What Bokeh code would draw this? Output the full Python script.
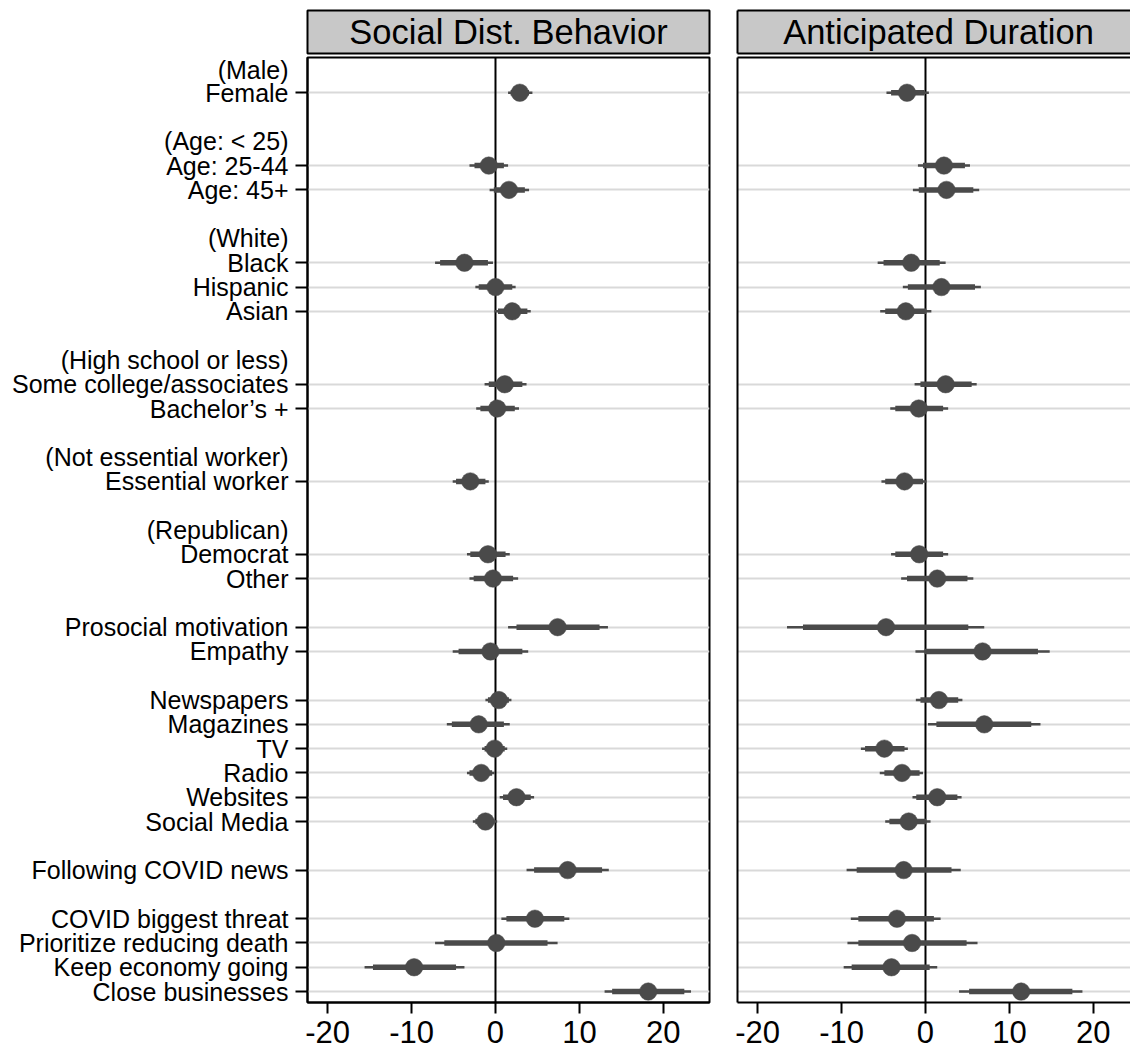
from bokeh.plotting import figure
from bokeh.layouts import row, column
from bokeh.models import Range1d, FixedTicker, LinearAxis, Span, Label, ColumnDataSource
from bokeh.embed import file_html
from bokeh.resources import INLINE

# ---------------- data ----------------
panel_titles = ["Social Dist. Behavior", "Anticipated Duration"]

group_headers = ["(Male)", "(Age: < 25)", "(White)", "(High school or less)",
                 "(Not essential worker)", "(Republican)", None, None, None, None]
group_items = [
    ["Female"],
    ["Age: 25-44", "Age: 45+"],
    ["Black", "Hispanic", "Asian"],
    ["Some college/associates", "Bachelor\u2019s +"],
    ["Essential worker"],
    ["Democrat", "Other"],
    ["Prosocial motivation", "Empathy"],
    ["Newspapers", "Magazines", "TV", "Radio", "Websites", "Social Media"],
    ["Following COVID news"],
    ["COVID biggest threat", "Prioritize reducing death", "Keep economy going", "Close businesses"],
]

xtick_values = [-20, -10, 0, 10, 20]
xtick_labels = ["-20", "-10", "0", "10", "20"]

# Social Dist. Behavior
sd_coef = [2.9, -0.8, 1.6, -3.7, 0.0, 2.0, 1.1, 0.2, -3.0, -0.9, -0.3, 7.4, -0.6,
           0.4, -2.0, -0.1, -1.7, 2.5, -1.2, 8.6, 4.7, 0.1, -9.7, 18.2]
sd_lo95 = [1.5, -3.1, -0.7, -7.2, -2.4, -0.1, -1.3, -2.3, -5.1, -3.4, -3.1, 1.5, -5.1,
           -1.2, -5.8, -1.6, -3.4, 0.5, -2.7, 3.7, 0.7, -7.2, -15.6, 13.0]
sd_hi95 = [4.4, 1.5, 4.0, -0.3, 2.4, 4.2, 3.7, 2.8, -0.8, 1.7, 2.7, 13.4, 3.9,
           1.9, 1.7, 1.4, -0.1, 4.6, 0.2, 13.5, 8.8, 7.4, -3.7, 23.3]
sd_lo90 = [1.8, -2.5, -0.2, -6.6, -2.0, 0.3, -0.8, -1.8, -4.7, -3.0, -2.6, 2.5, -4.4,
           -0.9, -5.2, -1.3, -3.1, 0.9, -2.4, 4.6, 1.3, -6.1, -14.6, 13.9]
sd_hi90 = [4.0, 1.0, 3.5, -0.9, 2.0, 3.8, 3.2, 2.3, -1.2, 1.2, 2.1, 12.4, 3.2,
           1.6, 1.0, 1.1, -0.4, 4.2, -0.1, 12.7, 8.2, 6.2, -4.7, 22.5]

# Anticipated Duration
ad_coef = [-2.2, 2.2, 2.5, -1.7, 1.9, -2.35, 2.4, -0.8, -2.5, -0.75, 1.4, -4.7, 6.8,
           1.6, 7.0, -4.9, -2.8, 1.4, -2.0, -2.6, -3.4, -1.6, -4.05, 11.4]
ad_lo95 = [-4.65, -0.9, -1.5, -5.7, -2.7, -5.4, -1.3, -4.2, -5.25, -4.1, -2.9, -16.5, -1.2,
           -1.15, 0.3, -7.7, -5.45, -1.55, -4.8, -9.4, -8.9, -9.3, -9.75, 4.0]
ad_hi95 = [0.4, 5.3, 6.4, 2.4, 6.6, 0.7, 6.1, 2.7, 0.1, 2.7, 5.7, 7.0, 14.8,
           4.4, 13.7, -2.1, -0.3, 4.3, 0.6, 4.2, 1.8, 6.2, 1.4, 18.7]
ad_lo90 = [-4.1, -0.3, -0.8, -5.0, -2.1, -4.8, -0.6, -3.6, -4.8, -3.6, -2.2, -14.6, -0.1,
           -0.6, 1.3, -7.2, -4.9, -1.1, -4.3, -8.2, -8.0, -8.0, -8.8, 5.2]
ad_hi90 = [-0.1, 4.7, 5.7, 1.7, 5.9, 0.1, 5.5, 2.1, -0.3, 2.1, 5.0, 5.1, 13.4,
           3.9, 12.6, -2.5, -0.7, 3.8, 0.1, 3.1, 1.0, 4.9, 0.5, 17.5]

# ---------------- layout helpers ----------------
FONT = "Liberation Sans"
MARK = "#4a4a4a"
GRID = "#d9d9d9"
XMIN, XMAX = -22.4, 25.5

slot = 0
coef_slots, label_map = [], {}
for head, items in zip(group_headers, group_items):
    if head is not None:
        label_map[slot] = head
        slot += 1
    for it in items:
        coef_slots.append(slot)
        label_map[slot] = it
        slot += 1
    slot += 1
last_slot = slot - 2

LB1, RB1, LB2 = 307, 14, 14
FRAME1 = 402
W1 = LB1 + FRAME1 + RB1
W2 = 1130 - W1
FRAME2 = W2 - LB2
x_end2 = XMIN + FRAME2 * (XMAX - XMIN) / FRAME1
HH = 55
MH = 1056 - HH


def line_axis(p, side):
    ax = LinearAxis(ticker=FixedTicker(ticks=[]), axis_line_width=2, axis_line_color="black",
                    major_tick_out=0, major_tick_in=0, minor_tick_out=0, minor_tick_in=0,
                    major_tick_line_color=None, minor_tick_line_color=None,
                    major_label_standoff=0, major_label_text_font_size="0px")
    p.add_layout(ax, side)


def make_header(title, width, mbl, mbr, x_end, cut):
    h = figure(width=width, height=HH, x_range=Range1d(XMIN, x_end), y_range=Range1d(0, 1),
               toolbar_location=None, output_backend="svg",
               x_axis_location=None, y_axis_location=None,
               min_border_left=mbl, min_border_right=mbr, min_border_top=10, min_border_bottom=2,
               background_fill_color="#c8c8c8", border_fill_color="white")
    h.grid.visible = False
    if cut:
        h.outline_line_color = None
        line_axis(h, "left")
        line_axis(h, "above")
        line_axis(h, "below")
    else:
        h.outline_line_color = "black"
        h.outline_line_width = 2
    h.add_layout(Label(x=(XMIN + XMAX) / 2, y=0.5, text=title, text_align="center",
                       text_baseline="middle", text_font=FONT, text_font_size="34.5px",
                       text_color="black"))
    return h


def make_panel(coef, lo95, hi95, lo90, hi90, width, mbl, mbr, x_end, first):
    p = figure(width=width, height=MH, x_range=Range1d(XMIN, x_end),
               y_range=Range1d(last_slot + 0.45, -0.45),
               toolbar_location=None, output_backend="svg",
               min_border_left=mbl, min_border_right=mbr, min_border_top=2, min_border_bottom=54,
               background_fill_color="white", border_fill_color="white")
    p.xgrid.grid_line_color = None
    p.ygrid.ticker = FixedTicker(ticks=coef_slots)
    p.ygrid.grid_line_color = GRID
    p.ygrid.grid_line_width = 2

    xa = p.xaxis[0]
    xa.ticker = FixedTicker(ticks=xtick_values)
    xa.major_label_overrides = dict(zip(xtick_values, xtick_labels))
    xa.axis_line_width = 2
    xa.axis_line_color = "black"
    xa.major_tick_out = 11
    xa.major_tick_in = 0
    xa.major_tick_line_width = 2
    xa.major_tick_line_color = "black"
    xa.minor_tick_line_color = None
    xa.major_label_text_font = FONT
    xa.major_label_text_font_size = "31px"
    xa.major_label_text_color = "black"
    xa.major_label_standoff = 7

    ya = p.yaxis[0]
    ya.axis_line_width = 2
    ya.axis_line_color = "black"
    if first:
        ya.ticker = FixedTicker(ticks=sorted(label_map), minor_ticks=coef_slots)
        ya.major_label_overrides = {k: v for k, v in label_map.items()}
        ya.major_tick_line_color = None
        ya.major_tick_out = 12
        ya.major_tick_in = 0
        ya.minor_tick_out = 12
        ya.minor_tick_in = 0
        ya.minor_tick_line_width = 2
        ya.minor_tick_line_color = "black"
        ya.major_label_text_font = FONT
        ya.major_label_text_font_size = "25px"
        ya.major_label_text_color = "black"
        ya.major_label_standoff = 7
        p.outline_line_color = "black"
        p.outline_line_width = 2
    else:
        ya.ticker = FixedTicker(ticks=[])
        ya.major_tick_line_color = None
        ya.minor_tick_line_color = None
        ya.major_tick_out = 0
        ya.minor_tick_out = 0
        ya.major_label_standoff = 0
        ya.major_label_text_font_size = "0px"
        p.outline_line_color = None
        line_axis(p, "above")

    p.add_layout(Span(location=0, dimension="height", line_color="black", line_width=2,
                      level="underlay"))

    src = ColumnDataSource(dict(y=coef_slots, coef=coef, lo95=lo95, hi95=hi95,
                                lo90=lo90, hi90=hi90))
    p.segment(x0="lo95", y0="y", x1="hi95", y1="y", source=src, line_color=MARK,
              line_width=2.5, line_cap="butt")
    p.segment(x0="lo90", y0="y", x1="hi90", y1="y", source=src, line_color=MARK,
              line_width=5.5, line_cap="butt")
    p.scatter(x="coef", y="y", source=src, size=17.5, fill_color=MARK, line_color=MARK,
              line_width=0.5)
    return p


h1 = make_header(panel_titles[0], W1, LB1, RB1, XMAX, False)
h2 = make_header(panel_titles[1], W2, LB2, 0, x_end2, True)
m1 = make_panel(sd_coef, sd_lo95, sd_hi95, sd_lo90, sd_hi90, W1, LB1, RB1, XMAX, True)
m2 = make_panel(ad_coef, ad_lo95, ad_hi95, ad_lo90, ad_hi90, W2, LB2, 0, x_end2, False)

layout = column(row(h1, h2), row(m1, m2))

open("out.html", "w").write(file_html(layout, INLINE))
